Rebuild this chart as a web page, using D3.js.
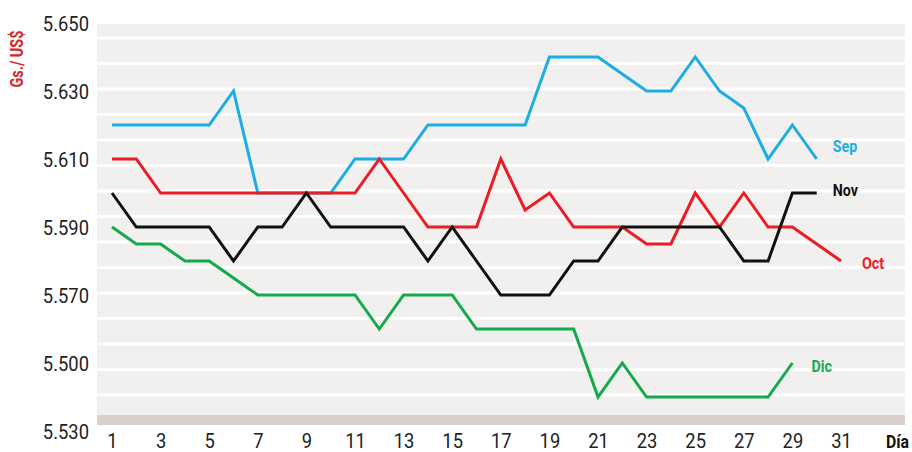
<!DOCTYPE html>
<html>
<head>
<meta charset="utf-8">
<script src="https://cdn.jsdelivr.net/npm/d3@7"></script>
<style>
  body { margin: 0; background: #fff; }
  svg text { font-family: Roboto, "Liberation Sans", sans-serif; }
</style>
</head>
<body>
<div id="chart"></div>
<script>

// data

const DAYS = d3.range(1, 32);
const SEP = [5.620, 5.620, 5.620, 5.620, 5.620, 5.630, 5.600, 5.600, 5.600, 5.600,
             5.610, 5.610, 5.610, 5.620, 5.620, 5.620, 5.620, 5.620, 5.640, 5.640,
             5.640, 5.635, 5.630, 5.630, 5.640, 5.630, 5.625, 5.610, 5.620, 5.610];
const OCT = [5.610, 5.610, 5.600, 5.600, 5.600, 5.600, 5.600, 5.600, 5.600, 5.600,
             5.600, 5.610, 5.600, 5.590, 5.590, 5.590, 5.610, 5.595, 5.600, 5.590,
             5.590, 5.590, 5.585, 5.585, 5.600, 5.590, 5.600, 5.590, 5.590, 5.585, 5.580];
const NOV = [5.600, 5.590, 5.590, 5.590, 5.590, 5.580, 5.590, 5.590, 5.600, 5.590,
             5.590, 5.590, 5.590, 5.580, 5.590, 5.580, 5.570, 5.570, 5.570, 5.580,
             5.580, 5.590, 5.590, 5.590, 5.590, 5.590, 5.580, 5.580, 5.600, 5.600];
const DIC = [5.590, 5.585, 5.585, 5.580, 5.580, 5.575, 5.570, 5.570, 5.570, 5.570,
             5.570, 5.560, 5.570, 5.570, 5.570, 5.560, 5.560, 5.560, 5.560, 5.560,
             5.540, 5.550, 5.540, 5.540, 5.540, 5.540, 5.540, 5.540, 5.550];

const Y_TICKS = [5.650, 5.630, 5.610, 5.590, 5.570, 5.550, 5.530];
const Y_LABELS = ["5.650", "5.630", "5.610", "5.590", "5.570", "5.500", "5.530"];
const X_TICKS = d3.range(1, 32, 2);

const SERIES = [
  {name: "Sep", values: SEP, color: "#1badE4", dx: 16, dy: -7},
  {name: "Oct", values: OCT, color: "#ec1c24", dx: 21, dy: 8},
  {name: "Nov", values: NOV, color: "#111111", dx: 16, dy: 3},
  {name: "Dic", values: DIC, color: "#14a94a", dx: 19, dy: 9}
];

// frame

const FRAME_WIDTH = 912;
const FRAME_HEIGHT = 452;
const PANEL = {left: 97, right: 905, top: 24, bottom: 415};

const FRAME = d3.select("#chart")
                .append("svg")
                  .attr("width", FRAME_WIDTH)
                  .attr("height", FRAME_HEIGHT);

const X_SCALE = d3.scaleLinear()
                  .domain([1, 31])
                  .range([112, 841]);

const Y_SCALE = d3.scaleLinear()
                  .domain([5.530, 5.650])
                  .range([431, 23]);

// background panel + bottom band
FRAME.append("rect")
  .attr("x", PANEL.left)
  .attr("y", PANEL.top)
  .attr("width", PANEL.right - PANEL.left)
  .attr("height", PANEL.bottom - PANEL.top)
  .attr("fill", "#f1f0ee");

FRAME.append("rect")
  .attr("x", PANEL.left)
  .attr("y", PANEL.bottom)
  .attr("width", PANEL.right - PANEL.left)
  .attr("height", 10)
  .attr("fill", "#d9d0cb");

// white grid lines (not aligned to labels in the original)
const GRID = d3.range(15).map(i => 38 + i * 25.5);
FRAME.selectAll(".grid")
  .data(GRID)
  .enter()
  .append("line")
    .attr("class", "grid")
    .attr("x1", PANEL.left)
    .attr("x2", PANEL.right)
    .attr("y1", d => d)
    .attr("y2", d => d)
    .attr("stroke", "#ffffff")
    .attr("stroke-width", 3);

// y axis
const yAxis = FRAME.append("g")
  .attr("transform", "translate(89,0)")
  .call(d3.axisLeft(Y_SCALE)
          .tickValues(Y_TICKS)
          .tickSize(0)
          .tickPadding(0)
          .tickFormat((d, i) => Y_LABELS[i]));
yAxis.select(".domain").remove();
yAxis.selectAll("text")
  .attr("font-size", "20px")
  .attr("fill", "#222")
  .attr("dy", "0.36em")
  .attr("transform", "scale(0.92,1)");

// x axis
const xAxis = FRAME.append("g")
  .attr("transform", "translate(0,433)")
  .call(d3.axisBottom(X_SCALE)
          .tickValues(X_TICKS)
          .tickSize(0)
          .tickPadding(0)
          .tickFormat(d3.format("d")));
xAxis.select(".domain").remove();
xAxis.selectAll("text")
  .attr("font-size", "20px")
  .attr("fill", "#222")
  .attr("dy", "0.75em")
  .attr("transform", "scale(0.92,1)");

// lines
const LINE = d3.line()
  .x((d, i) => X_SCALE(DAYS[i]))
  .y(d => Y_SCALE(d));

FRAME.selectAll(".series")
  .data(SERIES)
  .enter()
  .append("path")
    .attr("class", "series")
    .attr("d", d => LINE(d.values))
    .attr("fill", "none")
    .attr("stroke", d => d.color)
    .attr("stroke-width", 3)
    .attr("stroke-linejoin", "miter");

// series labels at line ends (condensed bold look)
FRAME.selectAll(".label")
  .data(SERIES)
  .enter()
  .append("text")
    .attr("class", "label")
    .attr("transform", d => "translate(" + (X_SCALE(DAYS[d.values.length - 1]) + d.dx) + "," +
                         (Y_SCALE(d.values[d.values.length - 1]) + d.dy) + ") scale(0.84,1)")
    .attr("font-size", "17px")
    .attr("font-weight", "bold")
    .attr("fill", d => d.color)
    .text(d => d.name);

// axis titles
FRAME.append("text")
  .attr("transform", "translate(23,59) rotate(-90) scale(0.8,1)")
  .attr("text-anchor", "middle")
  .attr("font-size", "18px")
  .attr("font-weight", "bold")
  .attr("fill", "#d7262e")
  .text("Gs./ US$");

FRAME.append("text")
  .attr("transform", "translate(886,448) scale(0.88,1)")
  .attr("font-size", "18px")
  .attr("font-weight", "bold")
  .attr("fill", "#111")
  .text("Día");

</script>
</body>
</html>
